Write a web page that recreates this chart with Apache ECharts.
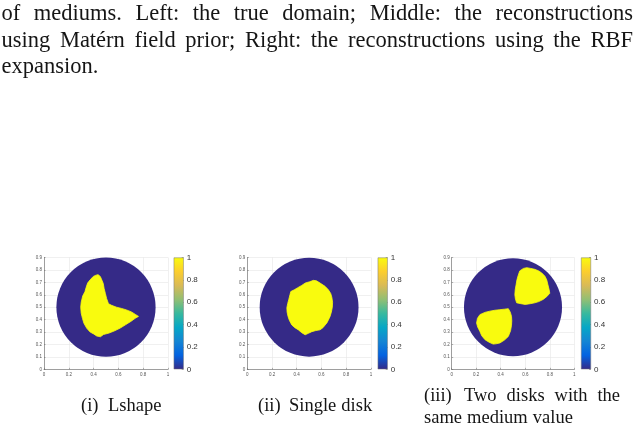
<!DOCTYPE html>
<html><head><meta charset="utf-8">
<script src="https://cdn.jsdelivr.net/npm/echarts@6/dist/echarts.min.js"></script>
<style>html,body{margin:0;padding:0;background:#fff}#c{width:636px;height:431px}</style>
</head><body><div id="c"></div>
<script>
// ---------- data ----------
const xTicks = [0, 0.2, 0.4, 0.6, 0.8, 1];
const yTicks = [0, 0.1, 0.2, 0.3, 0.4, 0.5, 0.6, 0.7, 0.8, 0.9];
const colorbarTicks = [0, 0.2, 0.4, 0.6, 0.8, 1];
const domainCenter = [0.5, 0.5];
const domainRadius = 0.4;
const backgroundValue = 0;
const inclusionValue = 1;

const lshapeOutline = [[0.438,0.762],[0.455,0.745],[0.468,0.715],[0.478,0.690],[0.485,0.650],[0.495,0.610],[0.505,0.570],[0.520,0.528],[0.545,0.515],[0.585,0.500],[0.625,0.490],[0.665,0.478],[0.705,0.462],[0.740,0.440],[0.762,0.426],[0.735,0.410],[0.700,0.385],[0.660,0.360],[0.615,0.332],[0.570,0.310],[0.525,0.292],[0.480,0.280],[0.455,0.262],[0.425,0.268],[0.400,0.285],[0.372,0.300],[0.345,0.330],[0.322,0.370],[0.310,0.410],[0.300,0.452],[0.296,0.500],[0.300,0.540],[0.312,0.590],[0.330,0.625],[0.340,0.660],[0.352,0.695],[0.372,0.720],[0.398,0.748],[0.420,0.758]];
const singleDiskOutline = [[0.535,0.716],[0.560,0.712],[0.589,0.694],[0.629,0.668],[0.656,0.640],[0.675,0.610],[0.684,0.580],[0.690,0.540],[0.688,0.500],[0.680,0.460],[0.669,0.424],[0.645,0.375],[0.612,0.335],[0.589,0.318],[0.555,0.312],[0.522,0.303],[0.495,0.290],[0.468,0.278],[0.440,0.295],[0.414,0.317],[0.385,0.335],[0.360,0.357],[0.340,0.395],[0.330,0.424],[0.322,0.460],[0.320,0.495],[0.327,0.530],[0.335,0.560],[0.345,0.600],[0.352,0.626],[0.380,0.640],[0.405,0.655],[0.440,0.675],[0.470,0.695],[0.505,0.705]];
const twoDisksUpperOutline = [[0.555,0.792],[0.585,0.812],[0.612,0.818],[0.645,0.812],[0.677,0.805],[0.710,0.792],[0.735,0.775],[0.760,0.750],[0.775,0.720],[0.785,0.680],[0.795,0.640],[0.800,0.612],[0.775,0.585],[0.745,0.562],[0.710,0.545],[0.677,0.535],[0.640,0.528],[0.600,0.522],[0.565,0.528],[0.530,0.535],[0.520,0.565],[0.515,0.600],[0.518,0.640],[0.525,0.680],[0.532,0.720],[0.542,0.755]];
const twoDisksLowerOutline = [[0.230,0.440],[0.270,0.458],[0.311,0.468],[0.350,0.475],[0.393,0.480],[0.430,0.484],[0.462,0.488],[0.478,0.460],[0.488,0.426],[0.490,0.390],[0.488,0.355],[0.480,0.310],[0.462,0.265],[0.430,0.235],[0.393,0.212],[0.360,0.205],[0.338,0.203],[0.305,0.218],[0.272,0.238],[0.245,0.270],[0.230,0.305],[0.212,0.340],[0.203,0.372],[0.210,0.410]];

const panelInclusions = [[lshapeOutline], [singleDiskOutline], [twoDisksUpperOutline, twoDisksLowerOutline]];

const bodyLines = [
  "of mediums. Left: the true domain; Middle: the reconstructions",
  "using Matérn field prior; Right: the reconstructions using the RBF",
  "expansion."
];
const captionLabels = ["(i)", "(ii)", "(iii)"];
const captionTexts = [["Lshape"], ["Single disk"], ["Two disks with the", "same medium value"]];

// ---------- styling / layout ----------
const parulaStops = ['#352A87','#0363E1','#1485D4','#06A7C6','#38B99E','#92BF73','#D9BA56','#FCCE2E','#F9FB0E'];
function parula(v){
  const t = Math.max(0, Math.min(1, v)) * (parulaStops.length - 1);
  const i = Math.floor(t), f = t - i;
  if (i >= parulaStops.length - 1) return parulaStops[parulaStops.length - 1];
  const a = parseInt(parulaStops[i].slice(1), 16), b = parseInt(parulaStops[i+1].slice(1), 16);
  const ch = s => [(s>>16)&255, (s>>8)&255, s&255];
  const ca = ch(a), cb = ch(b);
  return 'rgb(' + ca.map((c,k)=>Math.round(c + (cb[k]-c)*f)).join(',') + ')';
}
const panelLefts = [44, 247.3, 451.7];
const panelWidths = [124, 123.6, 122.6];
const cbLefts = [173.7, 377.7, 581];
const plotTop = 257.5, plotHeight = 111.8;

const grids = [], xAxes = [], yAxes = [], series = [];
const tickLabelStyle = {fontSize: 4.5, color: '#555', fontFamily: 'Liberation Sans'};
for (let p = 0; p < 3; p++) {
  grids.push({left: panelLefts[p], top: plotTop, width: panelWidths[p], height: plotHeight});
  xAxes.push({type: 'value', gridIndex: grids.length-1, min: xTicks[0], max: xTicks[xTicks.length-1], interval: xTicks[1]-xTicks[0],
    axisLabel: Object.assign({margin: 2.5, formatter: v => String(+v.toFixed(1))}, tickLabelStyle),
    axisLine: {lineStyle: {color: '#666', width: 0.6}}, axisTick: {inside: true, length: 1.5, lineStyle: {color: '#666', width: 0.5}},
    splitLine: {show: true, lineStyle: {color: '#e6e6e6', width: 0.6}}});
  yAxes.push({type: 'value', gridIndex: grids.length-1, min: yTicks[0], max: yTicks[yTicks.length-1], interval: yTicks[1]-yTicks[0],
    axisLabel: Object.assign({margin: 2, formatter: v => String(+v.toFixed(1))}, tickLabelStyle),
    axisLine: {show: true, lineStyle: {color: '#666', width: 0.6}}, axisTick: {show: true, inside: true, length: 1.5, lineStyle: {color: '#666', width: 0.5}},
    splitLine: {show: true, lineStyle: {color: '#e6e6e6', width: 0.6}}});
  const gi = grids.length - 1;
  series.push({type: 'custom', xAxisIndex: gi, yAxisIndex: gi, silent: true, data: [domainCenter.concat([domainRadius])],
    renderItem: (params, api) => {
      const c = api.coord([api.value(0), api.value(1)]);
      const r = api.size([api.value(2), 0])[0];
      return {type: 'circle', shape: {cx: c[0], cy: c[1], r: r}, style: {fill: parula(backgroundValue)}};
    }});
  panelInclusions[p].forEach(outline => {
    series.push({type: 'custom', xAxisIndex: gi, yAxisIndex: gi, silent: true, data: outline,
      renderItem: (params, api) => {
        if (params.dataIndex !== 0) return null;
        const pts = outline.map(pt => api.coord(pt));
        return {type: 'polygon', shape: {points: pts}, style: {fill: parula(inclusionValue), stroke: parula(inclusionValue), lineWidth: 0.8}};
      }});
  });
}
for (let p = 0; p < 3; p++) {
  grids.push({left: cbLefts[p], top: plotTop, width: 10, height: plotHeight});
  const gi = grids.length - 1;
  xAxes.push({type: 'category', gridIndex: gi, data: ['cb'], show: false});
  yAxes.push({type: 'value', gridIndex: gi, position: 'right', min: colorbarTicks[0], max: colorbarTicks[colorbarTicks.length-1], interval: colorbarTicks[1]-colorbarTicks[0],
    axisLabel: {fontSize: 8, color: '#333', margin: 3, fontFamily: 'Liberation Sans', formatter: v => String(+v.toFixed(1))},
    axisLine: {show: false}, axisTick: {show: true, inside: true, length: 2, lineStyle: {color: '#555', width: 0.5}},
    splitLine: {show: false}});
  series.push({type: 'bar', xAxisIndex: gi, yAxisIndex: gi, silent: true, barWidth: '100%', data: [colorbarTicks[colorbarTicks.length-1]],
    itemStyle: {color: new echarts.graphic.LinearGradient(0, 1, 0, 0, parulaStops.map((c, i) => ({offset: i/(parulaStops.length-1), color: c}))),
      borderColor: '#777', borderWidth: 0.5}});
}

// ---------- text ----------
const cv = document.createElement('canvas').getContext('2d');
const serif = '"Liberation Serif", "DejaVu Serif", serif';
function placeWords(words, x0, x1, y, size, justify){
  cv.font = size + 'px ' + serif;
  const widths = words.map(w => cv.measureText(w).width);
  const total = widths.reduce((a,b)=>a+b, 0);
  const gap = justify && words.length > 1 ? (x1 - x0 - total)/(words.length - 1) : cv.measureText(' ').width * 1.1;
  let x = x0; const els = [];
  words.forEach((w, i) => {
    els.push({type: 'text', x: x, y: y, silent: true, style: {text: w, font: size + 'px ' + serif, fill: '#151515', verticalAlign: 'middle', textVerticalAlign: 'middle'}});
    x += widths[i] + gap;
  });
  return els;
}
let graphics = [];
const bodyY = [14.5, 41, 67.5];
bodyLines.forEach((line, i) => {
  graphics = graphics.concat(placeWords(line.split(' '), 1.5, 633, bodyY[i], 22.5, i < bodyLines.length - 1));
});
const capLabelX = [81, 258, 424];
const capTextX = [108, 289, 464];
const capY = [[406.5], [406.5], [396, 418.5]];
for (let p = 0; p < 3; p++) {
  graphics = graphics.concat(placeWords([captionLabels[p]], capLabelX[p], 0, capY[p][0], 18.5, false));
  captionTexts[p].forEach((t, k) => {
    const x0 = k === 0 ? capTextX[p] : capLabelX[p];
    const x1 = p === 2 && k === 0 ? 620 : 0;
    graphics = graphics.concat(placeWords(t.split(' '), x0, x1, capY[p][k], 18.5, x1 > 0));
  });
}

const chart = echarts.init(document.getElementById('c'), null, {renderer: 'canvas'});
chart.setOption({
  animation: false,
  backgroundColor: '#fff',
  grid: grids, xAxis: xAxes, yAxis: yAxes, series: series,
  graphic: graphics
});
</script>
</body></html>
